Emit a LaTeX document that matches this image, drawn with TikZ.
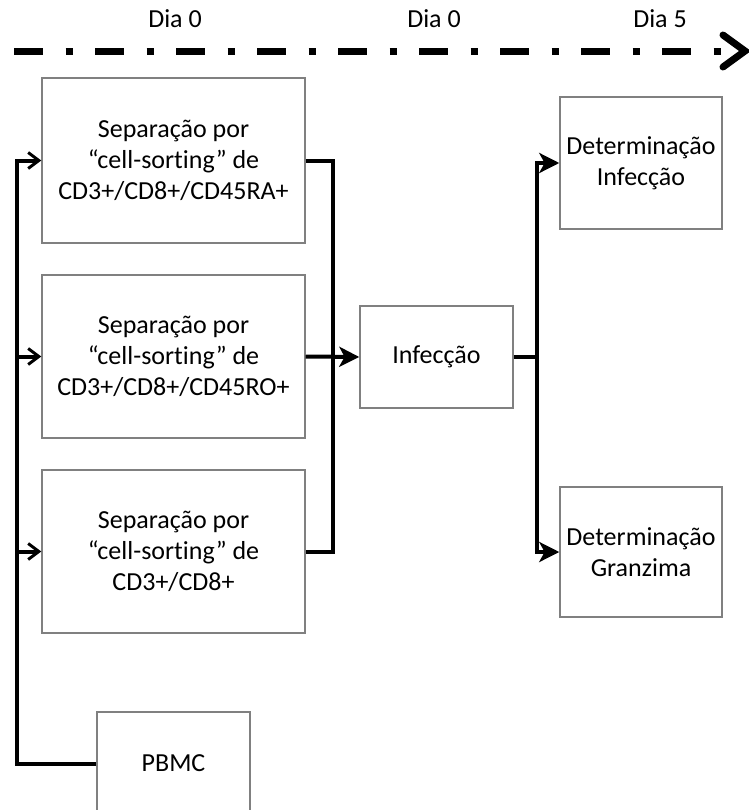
\documentclass[tikz,border=0pt]{standalone}
\usepackage{fontspec}
\setmainfont{Carlito}[Ligatures=NoCommon]
\usetikzlibrary{arrows.meta}
\newlength\pxu
\setlength\pxu{0.75pt}
\tikzset{
  stepbox/.style={draw=black!50, line width=1.1pt, fill=white, inner sep=0pt,
    align=center, font=\fontsize{19.5}{23.2}\selectfont, text=black},
  bus/.style={line width=3pt, draw=black},
  tolink/.style={bus, -{Straight Barb[length=8pt,width=12pt,line width=2.2pt]}},
  feed/.style={bus, -{Stealth[length=15pt,width=15pt,inset=4pt]}},
  timeline/.style={line width=5.25pt,
    dash pattern=on 21.75pt off 16.875pt on 5.25pt off 16.875pt},
  daylabel/.style={font=\fontsize{19.5}{23.2}\selectfont, text=black, inner sep=0pt}
}
\begin{document}
\begin{tikzpicture}[x=0.75pt,y=-0.75pt]
  \useasboundingbox (0,0) rectangle (749,810);
  \clip (0,0) rectangle (749,810);

  % time axis
  \node[daylabel] (d1) at (175,19) {Dia 0};
  \node[daylabel] (d2) at (434,19) {Dia 0};
  \node[daylabel] (d3) at (660,19) {Dia 5};
  \coordinate (t0) at (14,51);
  \coordinate (t1) at (720.5,51);
  \draw[timeline] (t0) -- (t1);
  \coordinate (c1) at (723,35);
  \coordinate (c2) at (745,51);
  \coordinate (c3) at (723,67);
  \draw[line width=5.25pt, line cap=round] (c1) -- (c2) -- (c3);

  % sorting steps
  \node[stepbox, minimum width=263\pxu, minimum height=165\pxu] (s1) at (173.5,160.5)
    {Separação por\\“cell-sorting” de\\CD3+/CD8+/CD45RA+};
  \node[stepbox, minimum width=263\pxu, minimum height=163\pxu] (s2) at (173.5,356.5)
    {Separação por\\“cell-sorting” de\\CD3+/CD8+/CD45RO+};
  \node[stepbox, minimum width=263\pxu, minimum height=163\pxu] (s3) at (173.5,551.5)
    {Separação por\\“cell-sorting” de\\CD3+/CD8+};
  \node[stepbox, minimum width=153\pxu, minimum height=103\pxu] (pbmc) at (173.5,763.5) {PBMC};

  % infection and read-outs
  \node[stepbox, minimum width=153\pxu, minimum height=102\pxu] (inf) at (436.5,357) {Infecção};
  \node[stepbox, minimum width=162\pxu, minimum height=132\pxu] (di) at (641,163)
    {Determinação\\Infecção};
  \node[stepbox, minimum width=162\pxu, minimum height=130\pxu] (dg) at (641,552)
    {Determinação\\Granzima};

  % PBMC feeding the three sorts
  \coordinate (lb) at (17,160.5);
  \draw[tolink] (pbmc.west) -| (lb) -- (s1.west);
  \draw[tolink] (s2.west -| lb) -- (s2.west);
  \draw[tolink] (s3.west -| lb) -- (s3.west);

  % sorted populations into infection
  \coordinate (rb) at (333,551.5);
  \draw[bus] (s1.east) -| (rb) -- (s3.east);
  \draw[feed] (s2.east) -- (inf.west);

  % infection to read-outs
  \coordinate (jr) at (537,357);
  \draw[bus] (inf.east) -- (jr);
  \draw[feed] (jr) |- (di.west);
  \draw[feed] (jr) |- (dg.west);
\end{tikzpicture}
\end{document}
